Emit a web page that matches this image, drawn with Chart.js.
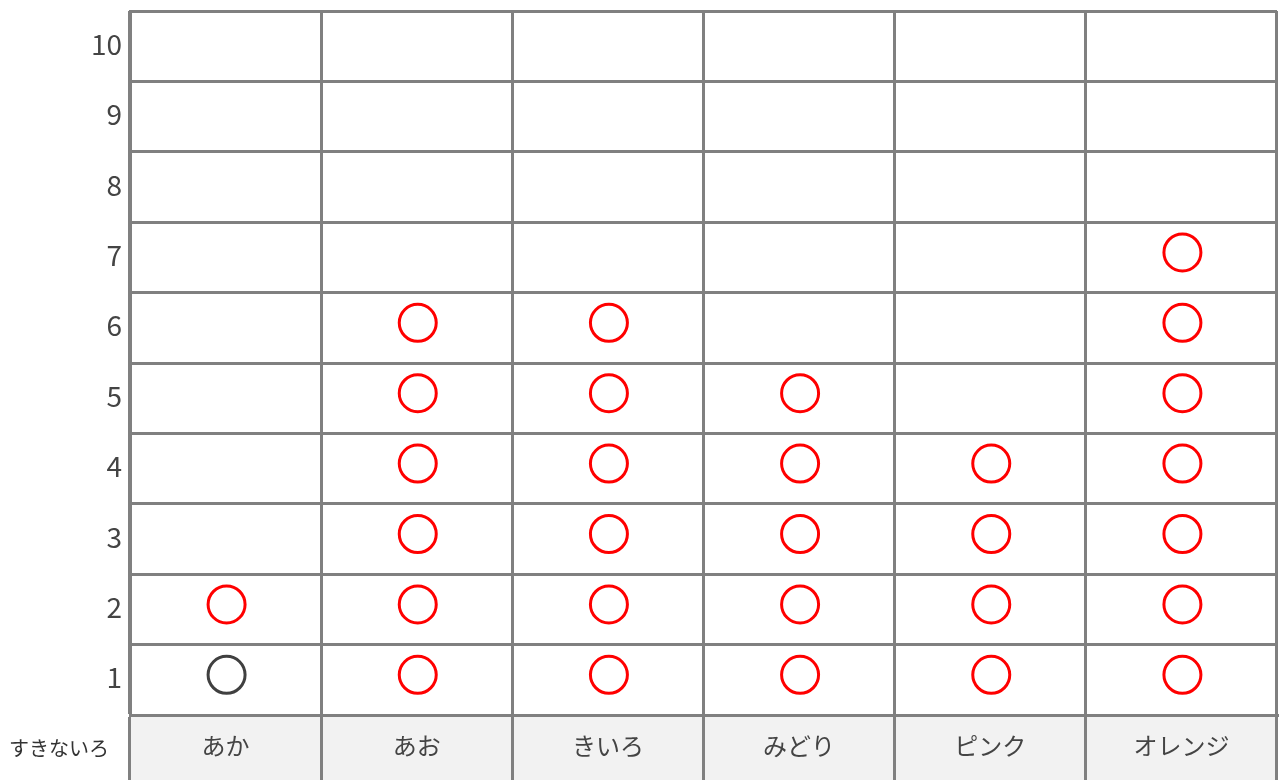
<!DOCTYPE html>
<html>
<head>
<meta charset="utf-8">
<script src="https://cdn.jsdelivr.net/npm/chart.js@4/dist/chart.umd.min.js"></script>
<style>
html,body{margin:0;padding:0;background:#fff;}
#wrap{width:1280px;height:780px;}
</style>
</head>
<body>
<div id="wrap"><canvas id="c" width="1280" height="780"></canvas></div>
<script>
const categories = ['あか', 'あお', 'きいろ', 'みどり', 'ピンク', 'オレンジ'];
const counts = [2, 6, 6, 5, 4, 7];
const yTickLabels = ['10', '9', '8', '7', '6', '5', '4', '3', '2', '1'];
const rowHeaderLabel = 'すきないろ';
const darkMarks = [[0, 1]]; // [category index, level] drawn in dark gray

const FONT = '"Noto Sans CJK JP", "Noto Sans", sans-serif';
const points = [];
const colors = [];
counts.forEach((n, i) => {
  for (let k = 1; k <= n; k++) {
    points.push({ x: categories[i], y: String(k) });
    const dark = darkMarks.some(m => m[0] === i && m[1] === k);
    colors.push(dark ? '#404040' : '#ff0000');
  }
});

const bgPlugin = {
  id: 'bg',
  beforeDraw(chart) {
    const { ctx, chartArea } = chart;
    ctx.save();
    ctx.fillStyle = '#f2f2f2';
    ctx.fillRect(chartArea.left, chartArea.bottom, chartArea.right - chartArea.left, chart.height - chartArea.bottom);
    ctx.restore();
  },
  beforeDatasetsDraw(chart) {
    chart.ctx.save();
    chart.ctx.translate(1, -5);
  },
  afterDatasetsDraw(chart) {
    chart.ctx.restore();
  },
  afterDraw(chart) {
    const { ctx, chartArea } = chart;
    ctx.save();
    ctx.fillStyle = '#333';
    ctx.font = '20px ' + FONT;
    ctx.textAlign = 'center';
    ctx.textBaseline = 'middle';
    ctx.fillText(rowHeaderLabel, 59, (chartArea.bottom + chart.height) / 2 + 1);
    ctx.restore();
  }
};

new Chart(document.getElementById('c'), {
  type: 'scatter',
  data: {
    datasets: [{
      data: points,
      pointRadius: 18.5,
      pointBorderWidth: 3,
      pointBackgroundColor: 'rgba(0,0,0,0)',
      pointBorderColor: colors,
      showLine: false
    }]
  },
  options: {
    responsive: false,
    animation: false,
    events: [],
    layout: { autoPadding: false, padding: { top: 11, right: 3, left: 0, bottom: 0 } },
    plugins: { legend: { display: false }, tooltip: { enabled: false } },
    scales: {
      x: {
        type: 'category',
        labels: categories,
        offset: true,
        grid: { offset: true, color: '#808080', lineWidth: 3, drawTicks: true, tickLength: 65, tickColor: '#808080', tickWidth: 3 },
        border: { color: '#808080', width: 3 },
        ticks: { color: '#444', font: { family: FONT, size: 24 }, padding: -49 },
        afterFit(scale) { scale.height = 65; scale.paddingLeft = 0; scale.paddingRight = 0; }
      },
      y: {
        type: 'category',
        labels: yTickLabels,
        offset: true,
        grid: { offset: true, color: '#808080', lineWidth: 3, drawTicks: false },
        border: { color: '#808080', width: 3 },
        ticks: { color: '#444', font: { family: FONT, size: 28 }, padding: 8, labelOffset: -2 },
        afterFit(scale) { scale.width = 130; scale.paddingTop = 0; scale.paddingBottom = 0; }
      }
    }
  },
  plugins: [bgPlugin]
});
</script>
</body>
</html>
